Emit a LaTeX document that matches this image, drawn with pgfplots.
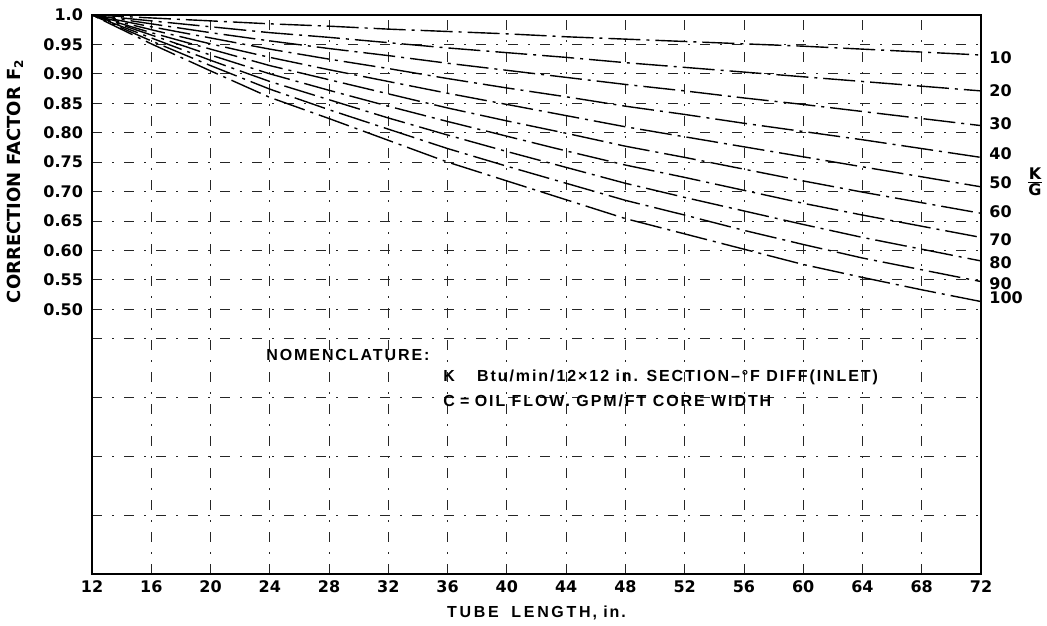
\documentclass[border=0pt]{standalone}
\usepackage{fontspec}
\setmainfont{DejaVu Sans}
\newfontfamily\nomfont[LetterSpace=12]{Liberation Sans}
\usepackage{pgfplots}
\pgfplotsset{compat=1.18}
\usepackage{pgfplotstable}

% correction factor F2 vs tube length, one column per K/G value
\pgfplotstableread{
L   k10   k20   k30   k40   k50   k60   k70   k80   k90   k100
12  1.000 1.000 1.000 1.000 1.000 1.000 1.000 1.000 1.000 1.000
16  0.995 0.990 0.985 0.980 0.975 0.970 0.966 0.961 0.956 0.951
20  0.990 0.980 0.970 0.961 0.951 0.942 0.932 0.923 0.914 0.905
24  0.985 0.970 0.956 0.942 0.928 0.914 0.900 0.887 0.874 0.860
28  0.981 0.962 0.943 0.925 0.907 0.890 0.872 0.856 0.839 0.824
32  0.976 0.953 0.931 0.909 0.887 0.866 0.845 0.825 0.806 0.787
36  0.972 0.944 0.918 0.892 0.867 0.842 0.819 0.796 0.773 0.750
40  0.968 0.936 0.906 0.876 0.848 0.820 0.794 0.768 0.743 0.718
44  0.963 0.928 0.894 0.861 0.829 0.799 0.769 0.741 0.714 0.686
48  0.959 0.919 0.882 0.845 0.810 0.777 0.745 0.714 0.685 0.654
52  0.955 0.911 0.871 0.831 0.793 0.758 0.724 0.690 0.660 0.628
56  0.951 0.903 0.859 0.816 0.776 0.738 0.702 0.667 0.634 0.602
60  0.947 0.895 0.848 0.802 0.759 0.718 0.680 0.644 0.610 0.576
64  0.942 0.887 0.836 0.788 0.742 0.699 0.660 0.622 0.587 0.554
68  0.937 0.879 0.824 0.773 0.725 0.681 0.641 0.602 0.567 0.533
72  0.932 0.871 0.812 0.758 0.708 0.663 0.622 0.582 0.547 0.513
}\fdata

\begin{document}
\begin{tikzpicture}[kg/.style={black, mark=none, line width=0.7pt, dash pattern=on 16pt off 3pt on 1.5pt off 3pt, dash phase=#1}]
\begin{axis}[
    at={(0pt,0pt)}, anchor=south west,
    scale only axis, width=444.5pt, height=279.5pt,
    xmin=12, xmax=72, ymin=0.05, ymax=1.0,
    xtick={12,16,...,72},
    ytick={0.15,0.25,0.35,0.45,0.50,0.55,0.60,0.65,0.70,0.75,0.80,0.85,0.90,0.95,1.0},
    yticklabels={,,,,0.50,0.55,0.60,0.65,0.70,0.75,0.80,0.85,0.90,0.95,1.0},
    grid=major,
    major grid style={black!85, line width=0.4pt, dash pattern=on 5pt off 5pt on 1pt off 5pt},
    major tick length=0pt,
    axis line style={black, line width=1pt},
    /pgf/number format/assume math mode=true,
    tick label style={font=\bfseries\fontsize{8}{9}\selectfont},
    xticklabel style={anchor=center, yshift=-6.5pt},
    yticklabel style={anchor=east, xshift=-1pt},
    xlabel={\nomfont\bfseries T\,U\,B\,E\ \ L\,E\,N\,G\,T\,H,\ in.},
    xlabel style={at={(axis description cs:0.5,0)}, anchor=center, yshift=-19.5pt, font=\fontsize{8}{9}\selectfont},
    ylabel={CORRECTION FACTOR F\textsubscript{2}},
    ylabel style={at={(axis description cs:-0.0866,0.703)}, anchor=center, font=\bfseries\fontsize{9}{10}\selectfont},
    clip=false,
]
% staggered dash phases so the fan stays solid near its origin
\addplot[kg=0pt]  table[x=L, y=k10]{\fdata};
\addplot[kg=9pt]  table[x=L, y=k20]{\fdata};
\addplot[kg=4pt]  table[x=L, y=k30]{\fdata};
\addplot[kg=13pt] table[x=L, y=k40]{\fdata};
\addplot[kg=2pt]  table[x=L, y=k50]{\fdata};
\addplot[kg=11pt] table[x=L, y=k60]{\fdata};
\addplot[kg=6pt]  table[x=L, y=k70]{\fdata};
\addplot[kg=15pt] table[x=L, y=k80]{\fdata};
\addplot[kg=8pt]  table[x=L, y=k90]{\fdata};
\addplot[kg=17pt] table[x=L, y=k100]{\fdata};

% K/G labels at the right end
\begin{scope}[every node/.style={anchor=west, inner sep=0pt, xshift=4pt, font=\bfseries\fontsize{8}{9}\selectfont}]
\node at (axis cs:72,0.928) {10};
\node at (axis cs:72,0.872) {20};
\node at (axis cs:72,0.816) {30};
\node at (axis cs:72,0.765) {40};
\node at (axis cs:72,0.715) {50};
\node at (axis cs:72,0.666) {60};
\node at (axis cs:72,0.618) {70};
\node at (axis cs:72,0.579) {80};
\node at (axis cs:72,0.544) {90};
\node at (axis cs:72,0.519) {100};
\end{scope}
\node[anchor=center, inner sep=0pt, xshift=27pt, font=\bfseries\fontsize{8}{9}\selectfont]
  at (axis cs:72,0.713) {\begin{tabular}{@{}c@{}}K\\[-1pt]\hline G\end{tabular}};

% nomenclature block
\begin{scope}[every node/.style={anchor=west, inner sep=0pt, font=\nomfont\bfseries\fontsize{8}{9}\selectfont}]
\node at (axis cs:23.74,0.4215) {NOMENCLATURE:};
\node at (axis cs:35.68,0.384) {K\hspace{1.4em}Btu/min/12×12 in. SECTION–°F DIFF(INLET)};
\node at (axis cs:35.68,0.345) {C\,\,=\,\,OIL FLOW. GPM/FT CORE WIDTH};
\end{scope}
\end{axis}
\pgfresetboundingbox
\path[use as bounding box] (-46pt,-25.5pt) rectangle (477.5pt,287pt);
\end{tikzpicture}
\end{document}
